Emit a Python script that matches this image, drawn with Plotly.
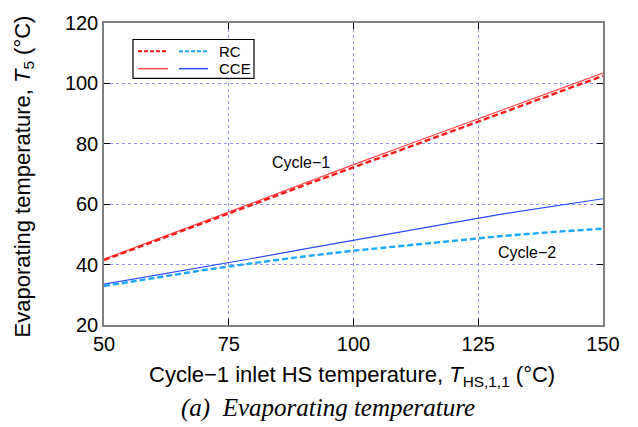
import plotly.graph_objects as go

# Cycle-1 inlet heat-source temperature (°C)
t_hs = [50, 60, 70, 80, 90, 100, 110, 120, 130, 140, 150]

# Evaporating temperature T5 (°C)
cycle1_cce = [41.8, 48.1, 54.3, 60.6, 66.9, 73.1, 79.2, 85.3, 91.4, 97.4, 103.4]
cycle1_rc = [41.5, 47.7, 53.9, 60.1, 66.2, 72.2, 78.3, 84.4, 90.4, 96.4, 102.5]
cycle2_cce = [33.5, 36.3, 39.2, 42.1, 45.1, 48.1, 51.0, 53.9, 56.8, 59.4, 61.8]
cycle2_rc = [32.9, 35.6, 38.2, 40.5, 42.7, 44.6, 46.3, 48.0, 49.5, 50.8, 51.9]

x_ticks = [50, 75, 100, 125, 150]
y_ticks = [20, 40, 60, 80, 100, 120]

RED_RC = "#ff1a1a"
RED_CCE = "#ff4a4a"
BLUE_RC = "#1aa8ff"
BLUE_CCE = "#2a4cff"

fig = go.Figure()
fig.add_trace(go.Scatter(x=t_hs, y=cycle1_cce, mode="lines",
                         line=dict(color=RED_CCE, width=1.2)))
fig.add_trace(go.Scatter(x=t_hs, y=cycle1_rc, mode="lines",
                         line=dict(color=RED_RC, width=2.4, dash="6px,3px")))
fig.add_trace(go.Scatter(x=t_hs, y=cycle2_cce, mode="lines",
                         line=dict(color=BLUE_CCE, width=1.2)))
fig.add_trace(go.Scatter(x=t_hs, y=cycle2_rc, mode="lines",
                         line=dict(color=BLUE_RC, width=2.4, dash="6px,3px")))

L, R, T, B = 104, 35, 14, 102
W, H = 638, 427
pw, ph = W - L - R, H - T - B


def px(x):
    return (x - L) / pw


def py(y):
    return (H - B - y) / ph


axis_common = dict(
    showline=True, linecolor="#808080", linewidth=1.5, mirror="ticks",
    ticks="inside", ticklen=6, tickcolor="#000000", tickwidth=1.2,
    showgrid=True, gridcolor="#9494ff", griddash="dot", gridwidth=1,
    zeroline=False,
    tickfont=dict(family="Liberation Sans, Arial", size=20, color="#000"),
)

fig.update_layout(
    width=W, height=H,
    margin=dict(l=L, r=R, t=T, b=B),
    paper_bgcolor="white", plot_bgcolor="white",
    showlegend=False,
    xaxis=dict(range=[50, 150], tickvals=x_ticks, **axis_common),
    yaxis=dict(range=[20, 120], tickvals=y_ticks, **axis_common),
)

# Legend box drawn as shapes
shapes = [
    dict(type="rect", xref="paper", yref="paper",
         x0=px(133), x1=px(254), y0=py(71), y1=py(31),
         line=dict(color="#000", width=1.2), fillcolor="white", layer="above"),
    dict(type="line", xref="paper", yref="paper", x0=px(138), x1=px(168),
         y0=py(43), y1=py(43), line=dict(color=RED_RC, width=2, dash="4px,2px")),
    dict(type="line", xref="paper", yref="paper", x0=px(179), x1=px(208),
         y0=py(43), y1=py(43), line=dict(color=BLUE_RC, width=2, dash="4px,2px")),
    dict(type="line", xref="paper", yref="paper", x0=px(138), x1=px(168),
         y0=py(61), y1=py(61), line=dict(color=RED_CCE, width=1.5)),
    dict(type="line", xref="paper", yref="paper", x0=px(179), x1=px(208),
         y0=py(61), y1=py(61), line=dict(color=BLUE_CCE, width=1.5)),
]
fig.update_layout(shapes=shapes)

font_sans = "Liberation Sans, Arial"
annotations = [
    dict(text="RC", xref="paper", yref="paper", x=px(217), y=py(43),
         xanchor="left", yanchor="middle", showarrow=False,
         font=dict(family=font_sans, size=15, color="#000")),
    dict(text="CCE", xref="paper", yref="paper", x=px(217), y=py(61),
         xanchor="left", yanchor="middle", showarrow=False,
         font=dict(family=font_sans, size=15, color="#000")),
    dict(text="Cycle−1", x=89.5, y=73.7, xref="x", yref="y", showarrow=False,
         font=dict(family=font_sans, size=16, color="#000")),
    dict(text="Cycle−2", x=134.8, y=43.9, xref="x", yref="y", showarrow=False,
         font=dict(family=font_sans, size=16, color="#000")),
    dict(text="Cycle−1 inlet HS temperature, <i>T</i><sub>HS,1,1</sub> (°C)",
         xref="paper", yref="paper", x=px(352), y=py(378),
         xanchor="center", yanchor="middle", showarrow=False,
         font=dict(family=font_sans, size=22, color="#000")),
    dict(text="Evaporating temperature, <i>T</i><sub>5</sub> (°C)",
         xref="paper", yref="paper", x=px(24), y=py(172), textangle=-90,
         xanchor="center", yanchor="middle", showarrow=False,
         font=dict(family=font_sans, size=22, color="#000")),
    dict(text="<i>(a)  Evaporating temperature</i>",
         xref="paper", yref="paper", x=px(328), y=py(410),
         xanchor="center", yanchor="middle", showarrow=False,
         font=dict(family="Liberation Serif, Times New Roman", size=25, color="#000")),
]
fig.update_layout(annotations=annotations)

fig.write_html("out.html")
